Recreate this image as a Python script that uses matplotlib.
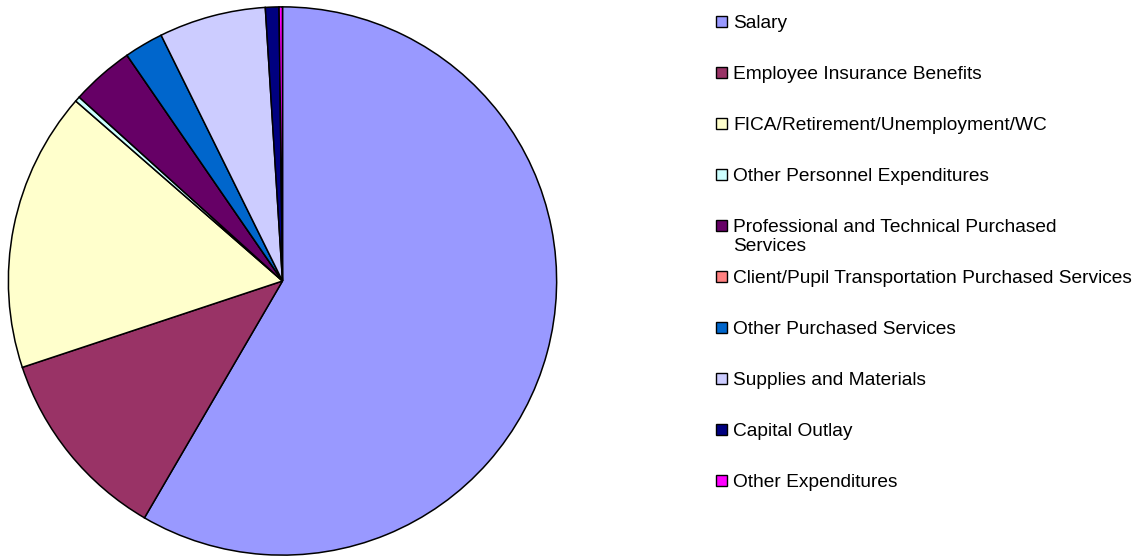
import matplotlib
matplotlib.use("Agg")
import matplotlib.pyplot as plt
from matplotlib.patches import Rectangle

plt.rcParams['font.family'] = ['Liberation Sans', 'DejaVu Sans']

labels = [
    'Salary',
    'Employee Insurance Benefits',
    'FICA/Retirement/Unemployment/WC',
    'Other Personnel Expenditures',
    'Professional and Technical Purchased\nServices',
    'Client/Pupil Transportation Purchased Services',
    'Other Purchased Services',
    'Supplies and Materials',
    'Capital Outlay',
    'Other Expenditures',
]
# share of total, percent
shares = [58.4, 11.5, 16.5, 0.3, 3.7, 0.0, 2.3, 6.3, 0.8, 0.2]
colors = ['#9999FF', '#993366', '#FFFFCC', '#CCFFFF', '#660066',
          '#FF8080', '#0066CC', '#CCCCFF', '#000080', '#FF00FF']

W, H = 1139, 556
fig = plt.figure(figsize=(W / 100, H / 100), dpi=100)

# pie: centre (282.5, 281) px, radius 275.5 px
cx, cy, r = 282.5, 281.0, 275.5
ax = fig.add_axes([(cx - r) / W, (H - cy - r) / H, 2 * r / W, 2 * r / H])
ax.pie(shares, colors=colors, startangle=90, counterclock=False, radius=1,
       wedgeprops=dict(edgecolor='black', linewidth=1.1))
ax.set_xlim(-1.005, 1.005)
ax.set_ylim(-1.005, 1.005)
ax.set_aspect('equal')
ax.axis('off')

# legend drawn by hand so wrapped labels keep the box on the first line
x_box, box = 716, 11
x_text = 733
y0, step = 21, 51
for i, (lab, col) in enumerate(zip(labels, colors)):
    yc = y0 + i * step
    fig.patches.append(Rectangle((x_box / W, (H - yc - box / 2) / H), box / W, box / H,
                                 transform=fig.transFigure, facecolor=col,
                                 edgecolor='black', linewidth=1.0))
    fig.text(x_text / W, (H - yc + 6) / H, lab, fontsize=13.8, va='top', ha='left',
             color='black', linespacing=1.18)

fig.savefig('out.png', dpi=100)
